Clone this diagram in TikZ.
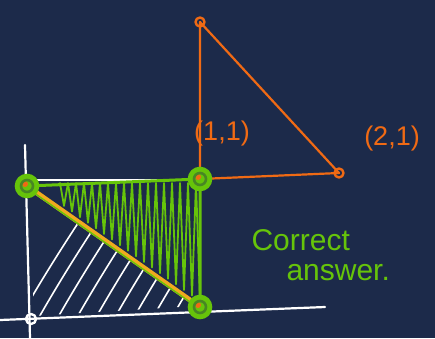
\documentclass[tikz,border=0pt]{standalone}
\usepackage{fontspec}
\setmainfont{Liberation Sans}
\definecolor{board}{RGB}{28,42,74}
\definecolor{pen}{RGB}{240,106,20}
\definecolor{leaf}{RGB}{102,196,10}
\definecolor{gold}{RGB}{240,170,30}
\tikzset{
  chalk/.style={white, line width=2.2pt},
  hatchline/.style={white, line width=1.6pt},
  greenline/.style={leaf, line width=3pt},
  orangeline/.style={pen, line width=2.2pt},
  ring/.style={leaf, line width=2.6pt},
  dot/.style={pen, line width=2.4pt}
}
\begin{document}
\begin{tikzpicture}[x=1pt,y=-1pt,line cap=round,line join=round]
\fill[board] (0,0) rectangle (435,338);
\useasboundingbox (0,0) rectangle (435,338);

% points
\coordinate (A) at (27,186);
\coordinate (B) at (200,179);
\coordinate (C) at (200,307);
\coordinate (T) at (200,22);
\coordinate (R) at (339,173);
\coordinate (O) at (31,319);

% white hatch under the diagonal
\begin{scope}
\clip (33,194) -- (33,316) -- (196,306) -- cycle;
\foreach \i in {0,...,11}
  \draw[hatchline] (10+\i*19,335) .. controls (35+\i*19,290) and (60+\i*19,250) .. (90+\i*19,205);
\end{scope}

% white square and axes
\draw[chalk] (30,180) -- (200,180) -- (200,312);
\draw[chalk] (25,145) -- (30,338);
\draw[chalk] (0,320) -- (325,307);
\draw[white, line width=2.4pt] (O) circle (5);

% orange triangle
\draw[orangeline] (T) -- (B) -- (R) -- cycle;
\draw[dot] (T) circle (4.5);
\draw[dot] (R) circle (4.5);
\fill[pen] (R) circle (1.2);

% green zigzag hatch
\draw[leaf, line width=1.8pt] (60,186)
  \foreach \x in {60,68,...,196} { -- (\x,183) -- ({\x+4},{186+(\x+4-27)*0.7-6}) };

% diagonal and green edges
\draw[gold, line width=5pt] (A) -- (C);
\draw[leaf, line width=1.4pt] ([yshift=-2pt]A) -- ([yshift=-2pt]C);
\draw[greenline] (A) -- (B) -- (C);

% corner rings
\foreach \p in {A,B,C} {
  \fill[leaf] (\p) circle (11);
  \fill[pen] ([shift={(-2,-2)}]\p) circle (3);
  \draw[ring, board!40!leaf] (\p) circle (6);
  \draw[ring] (\p) circle (11);
}

% labels
\node[pen, font=\fontsize{27}{27}\selectfont] (lab11) at (222,134) {(1,1)};
\node[pen, font=\fontsize{27}{27}\selectfont] (lab21) at (392,139) {(2,1)};
\node[leaf, anchor=base west, font=\fontsize{30}{30}\selectfont] (correct) at (248,250) {Correct};
\node[leaf, anchor=base west, font=\fontsize{30}{30}\selectfont] (answer) at (283,280) {answer.};
\end{tikzpicture}
\end{document}
